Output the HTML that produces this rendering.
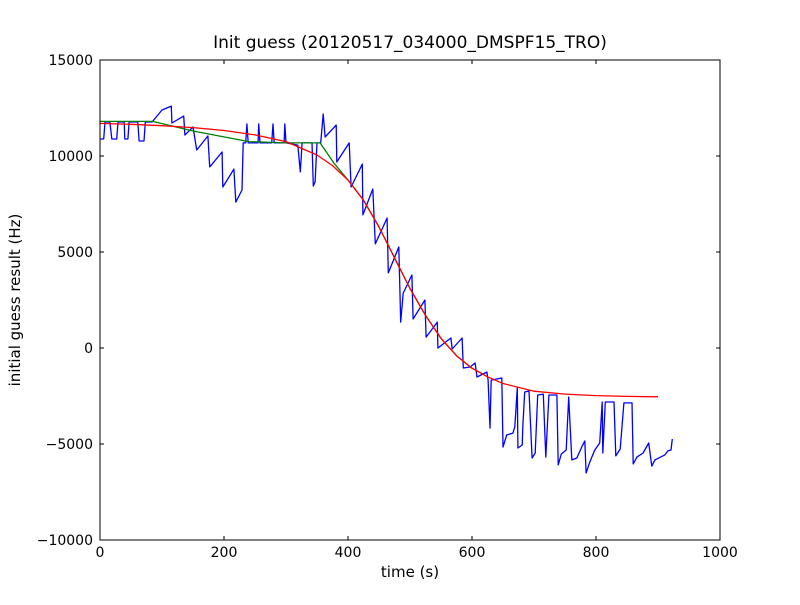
<!DOCTYPE html>
<html><head><meta charset="utf-8"><style>
body{margin:0;background:#fff;}
svg text{font-family:"DejaVu Sans","Liberation Sans",sans-serif;}
</style></head><body>
<svg id="chart" width="800" height="600" xmlns="http://www.w3.org/2000/svg">
<rect width="800" height="600" fill="#fff"/>
<text x="410" y="48" font-size="17" text-anchor="middle">Init guess (20120517_034000_DMSPF15_TRO)</text>
<text x="410" y="577" font-size="15" text-anchor="middle">time (s)</text>
<text x="20" y="300" font-size="15" text-anchor="middle" transform="rotate(-90 20 300)">initial guess result (Hz)</text>
<g id="ticks"></g>
<g id="series"></g>
<rect x="100" y="60" width="620" height="480" fill="none" stroke="#000" stroke-width="1"/>
</svg>
<script>
const xTicks=[0,200,400,600,800,1000];
const yTicks=[-10000,-5000,0,5000,10000,15000];
const xTickLabels=["0","200","400","600","800","1000"];
const yTickLabels=["\u221210000","\u22125000","0","5000","10000","15000"];
const blueT=[0,6,8,16,19,27,29,39,40,45,47,61,63,71,73,84,100,115,116,135,137,150,156,174,177,197,198,216,219,229,231,235,237,239,255,256,258,277,279,281,297,298,300,319,323,326,342,344,347,350,356,360,363,381,382,402,405,423,424,440,444,463,465,482,485,489,503,505,524,526,544,545,566,568,584,586,597,605,608,624,626,629,631,648,650,656,666,669,673,674,681,682,685,692,697,702,706,715,719,724,737,739,744,752,756,761,769,777,782,784,790,798,806,810,811,815,829,832,839,845,858,860,866,876,885,890,895,911,916,921,923];
const blueV=[10885,10885,11770,11770,10885,10885,11770,11770,10885,10885,11770,11770,10780,10780,11770,11770,12395,12600,11720,12080,11090,11510,10310,11040,9430,10210,8385,9320,7600,8230,10680,10680,11670,10680,10680,11670,10680,10680,11670,10680,10680,11670,10680,10570,9170,10680,10680,8440,8650,10680,10680,12190,10990,11610,9690,10680,8385,9580,6930,8280,5420,6770,3910,5260,1350,2860,3800,1510,2500,570,1350,0,520,-50,520,-1040,-990,-780,-1510,-1250,-1670,-4170,-1670,-1560,-5160,-4530,-4430,-4110,-2080,-5210,-5050,-4110,-2290,-2240,-5730,-5470,-2450,-2400,-5680,-2450,-2450,-6090,-5520,-5310,-2550,-5830,-5730,-5160,-4840,-6510,-5940,-5310,-4950,-2810,-5470,-2810,-2810,-5620,-5260,-2860,-2860,-6040,-5680,-5470,-4950,-6150,-5830,-5570,-5360,-5310,-4740];
const greenT=[0,85,150,240,300,355,378,400,425,450,475,500,525,550,575,600,620];
const greenV=[11800,11800,11300,10750,10680,10680,9600,8750,7700,6300,4700,3100,1700,500,-400,-1050,-1400];
const redT=[0,50,100,150,200,250,300,350,375,400,425,450,475,500,525,550,575,600,625,650,700,750,800,850,900];
const redV=[11700,11650,11580,11480,11330,11100,10750,10050,9500,8750,7700,6300,4700,3100,1700,500,-400,-1050,-1500,-1850,-2250,-2400,-2480,-2520,-2540];
const X=t=>100+t*0.62;
const Y=v=>348-v*0.0192;
const NS="http://www.w3.org/2000/svg";
const tk=document.getElementById('ticks');
function mk(tag,attrs,parent){const e=document.createElementNS(NS,tag);for(const k in attrs)e.setAttribute(k,attrs[k]);parent.appendChild(e);return e;}
xTicks.forEach((t,i)=>{
  const x=X(t);
  const a=mk('line',{x1:x,x2:x,y1:540,y2:536,stroke:'#000'},tk);
  
  
  const b=mk('line',{x1:x,x2:x,y1:60,y2:64,stroke:'#000'},tk);
  
  
  const l=mk('text',{x:x,y:557,'font-size':14,'text-anchor':'middle'},tk);
  l.textContent=xTickLabels[i];
  
  
});
yTicks.forEach((v,i)=>{
  const y=Y(v);
  const a=mk('line',{x1:100,x2:104,y1:y,y2:y,stroke:'#000'},tk);
  
  
  const b=mk('line',{x1:716,x2:720,y1:y,y2:y,stroke:'#000'},tk);
  
  
  const l=mk('text',{x:93,y:y+5,'font-size':14,'text-anchor':'end'},tk);
  l.textContent=yTickLabels[i];
  
  
});
const sg=document.getElementById('series');
function line(T,V,color,name){
  const pts=T.map((t,i)=>X(t).toFixed(1)+','+Y(V[i]).toFixed(1)).join(' ');
  const p=mk('polyline',{points:pts,fill:'none',stroke:color,'stroke-width':1.3,'stroke-linejoin':'round'},sg);
  
  
}
line(blueT,blueV,'#0000ff','blue-series');
line(greenT,greenV,'#008000','green-series');
line(redT,redV,'#ff0000','red-fit-series');
</script>
</body></html>
